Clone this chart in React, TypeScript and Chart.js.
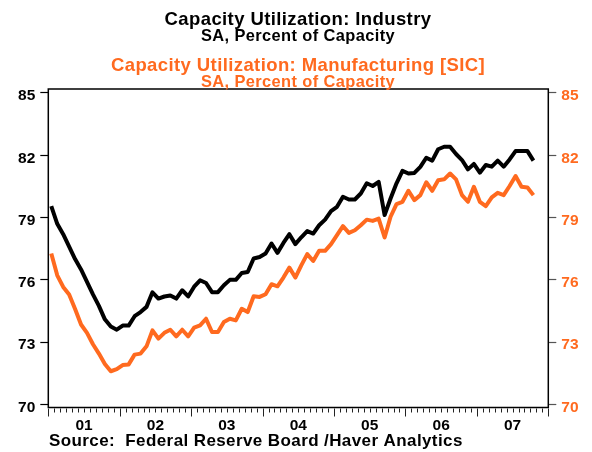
import React, { useEffect, useRef } from "react";
import { Chart, registerables } from "chart.js";

Chart.register(...registerables);

// Monthly data, Jan 2001 .. Oct 2007
const industry = [
  79.55, 78.7, 78.2, 77.6, 77.0, 76.5, 75.9, 75.3, 74.75, 74.1, 73.75, 73.6,
  73.8, 73.8, 74.25, 74.45, 74.7, 75.4, 75.1, 75.2, 75.25, 75.1, 75.5, 75.2,
  75.67, 75.98, 75.85, 75.41, 75.41, 75.74, 76.0, 76.0, 76.33, 76.38, 77.03, 77.1,
  77.27, 77.75, 77.3, 77.78, 78.2, 77.72, 78.05, 78.35, 78.23, 78.63, 78.9, 79.31,
  79.52, 80.0, 79.87, 79.87, 80.16, 80.65, 80.52, 80.72, 79.12, 79.92, 80.65, 81.25,
  81.12, 81.15, 81.44, 81.88, 81.74, 82.29, 82.41, 82.41, 82.06, 81.77, 81.32, 81.58,
  81.16, 81.53, 81.45, 81.74, 81.45, 81.8, 82.2, 82.2, 82.2, 81.74,
];
const manufacturing = [
  77.27, 76.22, 75.66, 75.3, 74.6, 73.85, 73.45, 72.9, 72.45, 71.95, 71.6, 71.7,
  71.9, 71.93, 72.4, 72.45, 72.8, 73.57, 73.17, 73.45, 73.6, 73.28, 73.6, 73.28,
  73.7, 73.81, 74.13, 73.49, 73.49, 73.97, 74.13, 74.05, 74.61, 74.45, 75.21, 75.18,
  75.31, 75.79, 75.69, 76.11, 76.59, 76.11, 76.7, 77.24, 76.91, 77.4, 77.4, 77.72,
  78.15, 78.59, 78.26, 78.39, 78.63, 78.9, 78.84, 78.95, 78.04, 79.04, 79.65, 79.76,
  80.29, 79.84, 80.08, 80.7, 80.29, 80.8, 80.84, 81.12, 80.84, 80.08, 79.76, 80.48,
  79.76, 79.55, 79.97, 80.19, 80.08, 80.52, 81.0, 80.48, 80.45, 80.08,
];
const yearLabels = ["01", "02", "03", "04", "05", "06", "07"];
const yTicks = [70, 73, 76, 79, 82, 85];
const titleLines = ["Capacity Utilization: Industry", "SA, Percent of Capacity"];
const subtitleLines = ["Capacity Utilization: Manufacturing [SIC]", "SA, Percent of Capacity"];
const sourceText = "Source:  Federal Reserve Board /Haver Analytics";

const ORANGE = "#ff6a1f";
const FONT = "'Liberation Sans', Arial, sans-serif";

const decor = {
  id: "decor",
  afterDraw(chart: any) {
    const { ctx, chartArea: a, scales } = chart;
    const x = scales.x;
    ctx.save();
    // frame
    ctx.strokeStyle = "#000";
    ctx.lineWidth = 1.5;
    ctx.strokeRect(a.left, a.top, a.right - a.left, a.bottom - a.top);
    // x ticks (monthly minor, yearly major)
    ctx.lineWidth = 1;
    ctx.strokeStyle = "#222";
    const totalMonths = yearLabels.length * 12;
    for (let m = 0; m <= totalMonths; m++) {
      const px = Math.round(x.getPixelForValue(m)) + 0.5;
      const len = m % 12 === 0 ? 8 : 4;
      ctx.beginPath();
      ctx.moveTo(px, a.bottom + 1);
      ctx.lineTo(px, a.bottom + 1 + len);
      ctx.stroke();
    }
    // year labels
    ctx.fillStyle = "#000";
    ctx.font = `bold 15.5px ${FONT}`;
    ctx.textAlign = "center";
    ctx.textBaseline = "alphabetic";
    yearLabels.forEach((lab, i) => {
      ctx.fillText(lab, x.getPixelForValue(i * 12 + 6), a.bottom + 22);
    });
    // source
    (ctx as any).letterSpacing = "0.4px";
    ctx.textAlign = "left";
    ctx.font = `bold 17px ${FONT}`;
    ctx.fillText(sourceText, 49, 446);
    // titles
    ctx.textAlign = "center";
    const cx = 298;
    ctx.fillStyle = "#000";
    ctx.font = `bold 18.5px ${FONT}`;
    ctx.fillText(titleLines[0], cx, 25);
    ctx.font = `bold 16.4px ${FONT}`;
    ctx.fillText(titleLines[1], cx, 41);
    ctx.fillStyle = ORANGE;
    ctx.font = `bold 18.5px ${FONT}`;
    ctx.fillText(subtitleLines[0], cx, 71);
    ctx.font = `bold 16.4px ${FONT}`;
    ctx.fillText(subtitleLines[1], cx, 87);
    ctx.restore();
  },
};

const yScale = (position: string, color: string, tickColor: string, width: number) => ({
  type: "linear",
  position,
  min: 69.855,
  max: 85.19,
  afterBuildTicks: (s: any) => {
    s.ticks = yTicks.map((v) => ({ value: v }));
  },
  afterFit: (s: any) => {
    s.width = width;
  },
  grid: {
    drawOnChartArea: false,
    tickLength: 8,
    tickColor,
    tickWidth: 1.2,
  },
  border: { display: false },
  ticks: {
    color,
    padding: 5,
    labelOffset: 3,
    font: { family: FONT, weight: "bold", size: 15.5 },
  },
});

export default function App() {
  const ref = useRef<HTMLCanvasElement | null>(null);
  useEffect(() => {
    document.body.style.margin = "0";
    if (!ref.current) return;
    const chart = new Chart(ref.current, {
      type: "line",
      data: {
        datasets: [
          {
            label: "Industry",
            data: industry.map((v, i) => ({ x: i + 0.5, y: v })),
            borderColor: "#000",
            borderWidth: 4,
            borderJoinStyle: "round",
            pointRadius: 0,
            tension: 0,
            yAxisID: "y",
          },
          {
            label: "Manufacturing [SIC]",
            data: manufacturing.map((v, i) => ({ x: i + 0.5, y: v })),
            borderColor: ORANGE,
            borderWidth: 4,
            borderJoinStyle: "round",
            pointRadius: 0,
            tension: 0,
            yAxisID: "y2",
          },
        ],
      },
      options: {
        animation: false,
        responsive: false,
        devicePixelRatio: 1,
        layout: { padding: { top: 89, left: 0, right: 0, bottom: 0 } },
        plugins: {
          legend: { display: false },
          tooltip: { enabled: false },
          title: { display: false },
        },
        scales: {
          x: {
            type: "linear",
            min: 0,
            max: yearLabels.length * 12,
            grid: { display: false },
            border: { display: false },
            ticks: { display: false },
            afterFit: (s: any) => {
              s.height = 44.5;
            },
          },
          y: yScale("left", "#000", "#000", 48.3) as any,
          y2: yScale("right", ORANGE, "#555", 43.7) as any,
        },
      } as any,
      plugins: [decor],
    });
    return () => chart.destroy();
  }, []);
  return <canvas ref={ref} width={592} height={452} style={{ display: "block" }} />;
}
